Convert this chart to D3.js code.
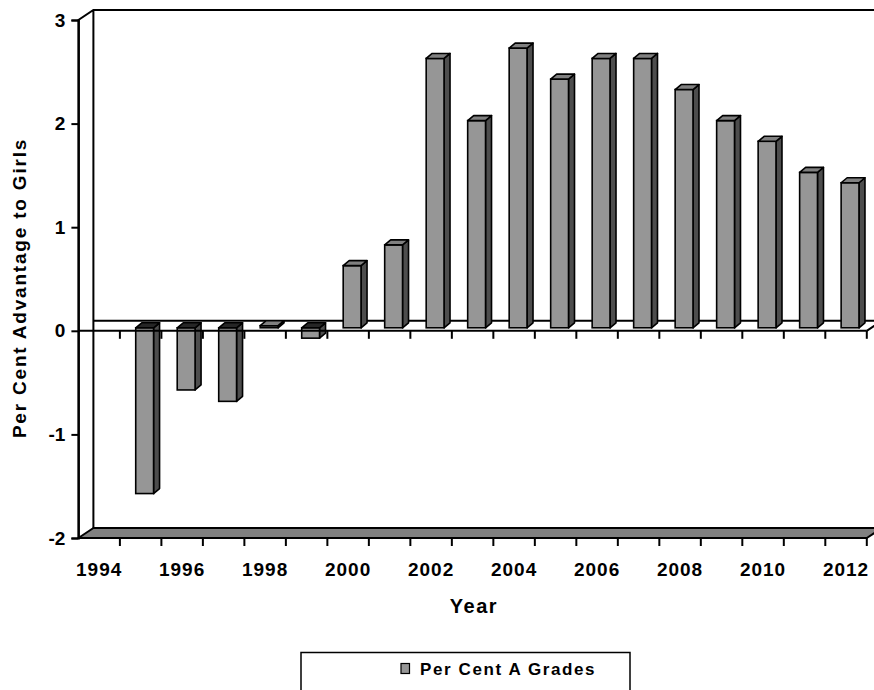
<!DOCTYPE html>
<html><head><meta charset="utf-8">
<script src="https://cdn.jsdelivr.net/npm/d3@7"></script>
<style>html,body{margin:0;padding:0;background:#fff;}svg{display:block;}
text{font-family:Arial,"Liberation Sans",sans-serif;font-weight:bold;fill:#000;}</style>
</head><body>
<svg id="c" width="874" height="690"></svg>
<script>
// Data
const years = [1994,1995,1996,1997,1998,1999,2000,2001,2002,2003,2004,2005,2006,2007,2008,2009,2010,2011,2012];
const values = [null,-1.6,-0.6,-0.71,0.02,-0.1,0.6,0.8,2.6,2.0,2.7,2.4,2.6,2.6,2.3,2.0,1.8,1.5,1.4];
const yTicks = [-2,-1,0,1,2,3];
const xLabelYears = [1994,1996,1998,2000,2002,2004,2006,2008,2010,2012];
const seriesName = "Per Cent A Grades";
const yTitle = "Per Cent Advantage to Girls";
const xTitle = "Year";

const svg = d3.select("#c");
const x = d3.scaleBand().domain(years).range([78.4, 866.8]).paddingInner(0).paddingOuter(0);
const y = d3.scaleLinear().domain([-2,3]).range([538,20]);

const DX = 15, DY = -10;      // full depth offset
const FX = 4, FY = -3;        // bar front face offset into depth
const BDX = 6, BDY = -5;      // bar depth
const bw = x.bandwidth()*0.43;

const xL = x.range()[0], xR = x.range()[1];
const yB = y(-2), yT = y(3), y0 = y(0);

// walls
svg.append("path")
  .attr("d", `M${xL},${yB} L${xL},${yT} L${xL+DX},${yT+DY} L${xR+DX+20},${yT+DY} M${xL+DX},${yT+DY} L${xL+DX},${yB+DY}`)
  .attr("fill","none").attr("stroke","#000").attr("stroke-width",2);

// floor
svg.append("path")
  .attr("d", `M${xL},${yB} L${xL+DX},${yB+DY} L${xR+DX},${yB+DY} L${xR},${yB} Z`)
  .attr("fill","#808080").attr("stroke","#000").attr("stroke-width",2).attr("stroke-linejoin","round");

// zero plane back edge
svg.append("path")
  .attr("d", `M${xL+DX},${y0+DY} L${xR+DX+20},${y0+DY} M${xR},${y0} L${xR+DX},${y0+DY}`)
  .attr("fill","none").attr("stroke","#000").attr("stroke-width",2);

// bars
const g = svg.append("g");
years.forEach((yr,i) => {
  const v = values[i];
  if (v === null) return;
  const L = x(yr) + (x.bandwidth()-bw)/2 + FX;
  const R = L + bw;
  const base = y0 + FY;
  const vy = y(v) + FY;
  const top = Math.min(base, vy), bot = Math.max(base, vy);
  const pos = v >= 0;
  g.append("path").attr("d", `M${R},${top} L${R+BDX},${top+BDY} L${R+BDX},${bot+BDY} L${R},${bot} Z`)
    .attr("fill","#4d4d4d").attr("stroke","#000").attr("stroke-width",1.6).attr("stroke-linejoin","round");
  g.append("rect").attr("x",L).attr("y",top).attr("width",bw).attr("height",Math.max(0,bot-top))
    .attr("fill","#969696").attr("stroke","#000").attr("stroke-width",1.6);
  g.append("path").attr("d", `M${L},${top} L${R},${top} L${R+BDX},${top+BDY} L${L+BDX},${top+BDY} Z`)
    .attr("fill", pos ? "#808080" : "#262626").attr("stroke","#000").attr("stroke-width",1.6).attr("stroke-linejoin","round");
});

// zero plane front line
svg.append("line").attr("x1",xL).attr("x2",xR).attr("y1",y0).attr("y2",y0)
  .attr("stroke","#000").attr("stroke-width",2);

// category ticks on zero line and floor
const bounds = years.slice(1).map(yr => x(yr)).concat([xR]);
svg.append("g").selectAll("line").data(bounds).join("line")
  .attr("x1",d=>d).attr("x2",d=>d).attr("y1",y0).attr("y2",y0+8)
  .attr("stroke","#000").attr("stroke-width",2);
svg.append("g").selectAll("line").data(bounds).join("line")
  .attr("x1",d=>d).attr("x2",d=>d).attr("y1",yB).attr("y2",yB+8)
  .attr("stroke","#000").attr("stroke-width",2);

// y axis
const yAxis = d3.axisLeft(y).tickValues(yTicks).tickSize(7).tickPadding(6).tickFormat(d => String(d));
const ya = svg.append("g").attr("transform",`translate(${xL},0)`).call(yAxis);
ya.select(".domain").attr("stroke","#000").attr("stroke-width",2);
ya.selectAll(".tick line").attr("stroke","#000").attr("stroke-width",2);
ya.selectAll(".tick text").attr("font-size",19).style("font-family","Arial, 'Liberation Sans', sans-serif").style("font-weight","bold").attr("fill","#000");

// x labels
svg.append("g").selectAll("text").data(xLabelYears).join("text")
  .attr("x", d => x(d) + x.bandwidth()/2).attr("y", 576)
  .attr("text-anchor","middle").attr("font-size",19).attr("letter-spacing",1)
  .text(d=>d);

// axis titles
svg.append("text").attr("x",474).attr("y",613).attr("text-anchor","middle")
  .attr("font-size",20).attr("letter-spacing",1.5).text(xTitle);
svg.append("text").attr("transform","translate(26,288) rotate(-90)").attr("text-anchor","middle")
  .attr("font-size",19).attr("letter-spacing",1.8).text(yTitle);

// legend
svg.append("rect").attr("x",301).attr("y",652.5).attr("width",329).attr("height",45)
  .attr("fill","#fff").attr("stroke","#000").attr("stroke-width",1.5);
svg.append("rect").attr("x",401).attr("y",663.5).attr("width",8.5).attr("height",10)
  .attr("fill","#969696").attr("stroke","#000").attr("stroke-width",1.2);
svg.append("text").attr("x",420).attr("y",675).attr("font-size",17).attr("letter-spacing",1.6)
  .text(seriesName);
</script>
</body></html>
